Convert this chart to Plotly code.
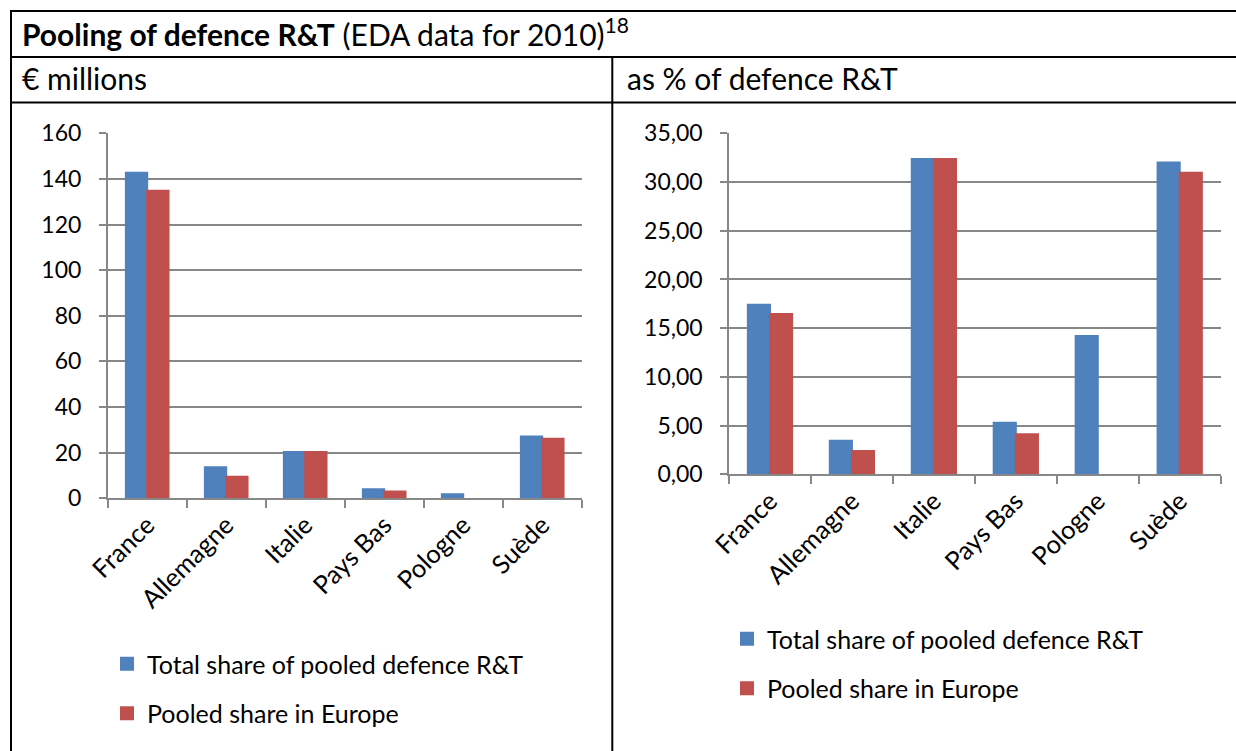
import plotly.graph_objects as go

# ---- data ----
countries = ["France", "Allemagne", "Italie", "Pays Bas", "Pologne", "Suède"]
series_names = ["Total share of pooled defence R&T", "Pooled share in Europe"]
millions_total = [142.7, 13.6, 20.3, 4.0, 1.8, 27.1]
millions_europe = [134.8, 9.5, 20.3, 3.0, None, 26.1]
pct_total = [17.4, 3.45, 32.35, 5.3, 14.2, 32.0]
pct_europe = [16.45, 2.4, 32.35, 4.1, None, 30.95]

title_html = "<b>Pooling of defence R&T</b> (EDA data for 2010)<sup>18</sup>"
left_header = "€ millions"
right_header = "as % of defence R&T"

BLUE = "#4F81BD"
RED = "#C0504D"
GRID = "#878787"
FONT = "Lato"
W, H = 1236, 751


def px(x):
    return x / W


def py(y):
    return 1 - y / H


fig = go.Figure()

for vals, name, color in [(millions_total, series_names[0], BLUE),
                          (millions_europe, series_names[1], RED)]:
    fig.add_trace(go.Bar(x=countries, y=vals, name=name, marker_color=color,
                         marker_line_width=2, marker_line_color=color,
                         xaxis="x", yaxis="y",
                         legend="legend", legendgroup=name + "L", showlegend=True))
for vals, name, color in [(pct_total, series_names[0], BLUE),
                          (pct_europe, series_names[1], RED)]:
    fig.add_trace(go.Bar(x=countries, y=vals, name=name, marker_color=color,
                         marker_line_width=2, marker_line_color=color,
                         xaxis="x2", yaxis="y2",
                         legend="legend2", legendgroup=name + "R", showlegend=True))

xcommon = dict(type="category", showline=True, linecolor=GRID, linewidth=1.5,
               ticks="outside", tickson="boundaries", ticklen=8, tickcolor=GRID,
               tickwidth=1.5, tickangle=-45, showgrid=False, automargin=False,
               tickfont=dict(family=FONT, size=25.5, color="black"))
ycommon = dict(showline=True, linecolor=GRID, linewidth=1.5, ticks="outside",
               ticklen=7, tickcolor=GRID, tickwidth=1.5, showgrid=True,
               gridcolor=GRID, gridwidth=1.5, zeroline=False, automargin=False,
               tickfont=dict(family=FONT, size=23, color="black"))

legend_common = dict(font=dict(family=FONT, size=25, color="black"),
                     bgcolor="rgba(0,0,0,0)", orientation="v",
                     tracegroupgap=14, xanchor="left", yanchor="top",
                     itemclick=False, itemdoubleclick=False)

fig.update_layout(
    width=W, height=H,
    autosize=False,
    margin=dict(l=0, r=0, t=0, b=0, pad=0, autoexpand=False),
    paper_bgcolor="white", plot_bgcolor="white",
    separators=", ",
    barmode="group", bargap=0.46, bargroupgap=0,
    font=dict(family=FONT, size=22, color="black"),
    xaxis=dict(domain=[px(107.7), px(581.7)], anchor="y", **xcommon),
    yaxis=dict(domain=[py(498.3), py(133.3)], anchor="x", range=[0, 160],
               dtick=20, tickformat="d", ticklabelstandoff=13, **ycommon),
    xaxis2=dict(domain=[px(729), px(1220.7)], anchor="y2", **xcommon),
    yaxis2=dict(domain=[py(474.3), py(133.3)], anchor="x2", range=[0, 35],
                dtick=5, tickformat=".2f", ticklabelstandoff=13, **ycommon),
    legend=dict(x=px(107), y=py(641), **legend_common),
    legend2=dict(x=px(727), y=py(616), **legend_common),
    annotations=[
        dict(text=title_html, x=px(20), y=py(32), xref="paper", yref="paper",
             xanchor="left", yanchor="middle", showarrow=False,
             font=dict(family=FONT, size=30, color="black")),
        dict(text=left_header, x=px(20), y=py(77.5), xref="paper", yref="paper",
             xanchor="left", yanchor="middle", showarrow=False,
             font=dict(family=FONT, size=30, color="black")),
        dict(text=right_header, x=px(625), y=py(77.5), xref="paper", yref="paper",
             xanchor="left", yanchor="middle", showarrow=False,
             font=dict(family=FONT, size=30, color="black")),
    ],
    shapes=[
        dict(type="line", xref="paper", yref="paper", x0=px(10), x1=1, y0=py(11), y1=py(11),
             line=dict(color="black", width=2)),
        dict(type="line", xref="paper", yref="paper", x0=px(10), x1=1, y0=py(57), y1=py(57),
             line=dict(color="black", width=2)),
        dict(type="line", xref="paper", yref="paper", x0=px(10), x1=1, y0=py(102.5), y1=py(102.5),
             line=dict(color="black", width=2)),
        dict(type="line", xref="paper", yref="paper", x0=px(11), x1=px(11), y0=py(10), y1=0,
             line=dict(color="black", width=2)),
        dict(type="line", xref="paper", yref="paper", x0=px(612.3), x1=px(612.3), y0=py(57), y1=0,
             line=dict(color="black", width=2)),
    ],
)

fig.write_html(
    "out.html",
    post_script="document.documentElement.style.margin='0';"
                "document.body.style.margin='0';document.body.style.padding='0';"
                "document.body.style.overflow='hidden';",
)
